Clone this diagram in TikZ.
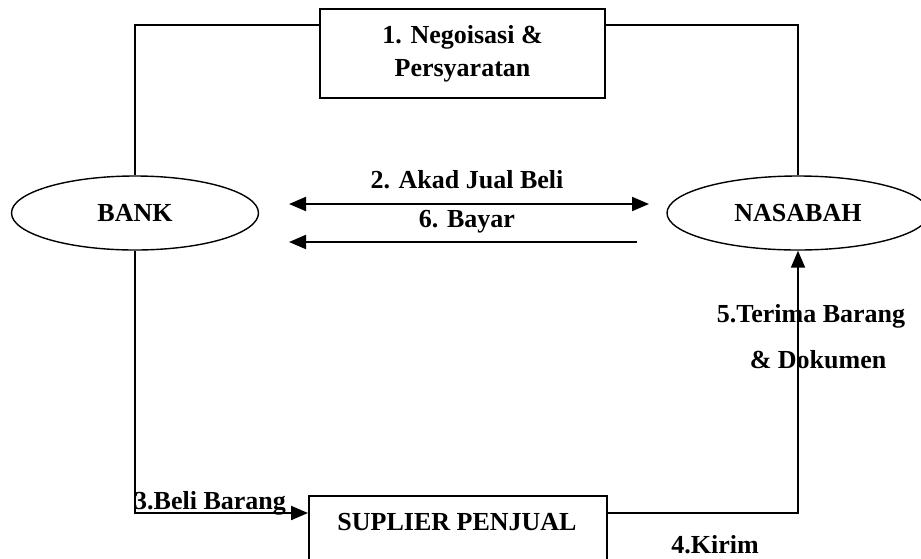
\documentclass[tikz,border=0pt]{standalone}
\usepackage{fontspec}
\setmainfont{Liberation Serif}
\usetikzlibrary{arrows.meta,calc,shapes.geometric}
\begin{document}
\begin{tikzpicture}[x=1pt,y=1pt,
  every node/.style={font=\fontsize{26}{33}\selectfont\bfseries, inner sep=0pt},
  boxnode/.style={draw, line width=1.8pt, rectangle},
  ovalnode/.style={draw, line width=1.4pt, ellipse},
  conn/.style={line width=2pt},
  tip/.style={-{Triangle[length=17pt,width=14pt]}},
  twotip/.style={{Triangle[length=17pt,width=14pt]}-{Triangle[length=17pt,width=14pt]}}
]
\useasboundingbox (0,0) rectangle (921,-558);
\fill[white] (0,0) rectangle (921,-558);

% nodes
\node[boxnode, minimum width=285pt, minimum height=89pt, align=center] (top) at (462.5,-53.5) {1. Negoisasi \&\\Persyaratan};
\node[ovalnode, minimum width=247pt, minimum height=74pt] (bank) at (135,-213) {BANK};
\node[ovalnode, minimum width=262pt, minimum height=74pt] (nasabah) at (798,-213) {NASABAH};
\node[boxnode, minimum width=298pt, minimum height=90pt, anchor=north west] (sup) at (308,-495) {};
\node (supt) at (457,-522) {SUPLIER PENJUAL};

% free ends
\coordinate (a2l) at (289,-204);
\coordinate (a2r) at (649,-204);
\coordinate (a6l) at (289,-242);
\coordinate (a6r) at (637,-242);
\coordinate (supin) at (308,-513);
\coordinate (supout) at (606,-513);
\coordinate (topl) at (320,-25);
\coordinate (topr) at (605,-25);

% connectors
\draw[conn] (topl) -| (bank.north);
\draw[conn] (topr) -| (nasabah.north);
\draw[conn, twotip] (a2l) -- (a2r);
\draw[conn, tip] (a6r) -- (a6l);
\draw[conn, tip] (bank.south) |- (supin);
\draw[conn, tip] (supout) -| (nasabah.south);

% labels
\node (l2) at (467,-180) {2. Akad Jual Beli};
\node (l6) at (467,-222) {6. Bayar};
\node[anchor=base west] (l3) at (134,-509) {3.Beli Barang};
\node (l4) at (715,-545) {4.Kirim};
\node (l5a) at (811,-316) {5.Terima Barang};
\node (l5b) at (818,-360) {\& Dokumen};
\end{tikzpicture}
\end{document}
